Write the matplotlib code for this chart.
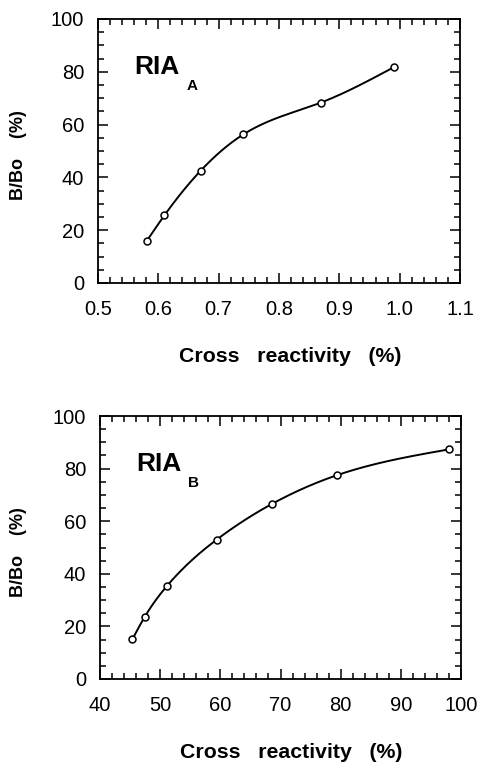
import numpy as np
import matplotlib
matplotlib.use("Agg")
import matplotlib.pyplot as plt
from matplotlib.ticker import MultipleLocator

# RIA A
xa = [0.581, 0.610, 0.670, 0.741, 0.869, 0.990]
ya = [16.0, 25.6, 42.5, 56.3, 68.3, 81.7]
# RIA B
xb = [45.4, 47.4, 51.1, 59.4, 68.6, 79.4, 98.0]
yb = [15.2, 23.5, 35.3, 53.0, 66.6, 77.5, 87.3]

xticks_a = [0.5, 0.6, 0.7, 0.8, 0.9, 1.0, 1.1]
xticklabels_a = ["0.5", "0.6", "0.7", "0.8", "0.9", "1.0", "1.1"]
xticks_b = [40, 50, 60, 70, 80, 90, 100]
yticks = [0, 20, 40, 60, 80, 100]

plt.rcParams['font.family'] = ['Liberation Sans', 'DejaVu Sans']


def spline(x, y, n=200):
    # natural cubic spline just for drawing the smooth line
    x = np.asarray(x, float)
    y = np.asarray(y, float)
    k = len(x)
    h = np.diff(x)
    A = np.zeros((k, k))
    r = np.zeros(k)
    A[0, 0] = A[-1, -1] = 1
    for i in range(1, k - 1):
        A[i, i - 1] = h[i - 1]
        A[i, i] = 2 * (h[i - 1] + h[i])
        A[i, i + 1] = h[i]
        r[i] = 6 * ((y[i + 1] - y[i]) / h[i] - (y[i] - y[i - 1]) / h[i - 1])
    m = np.linalg.solve(A, r)
    xs = np.linspace(x[0], x[-1], n)
    idx = np.clip(np.searchsorted(x, xs) - 1, 0, k - 2)
    t0 = x[idx]
    t1 = x[idx + 1]
    hh = t1 - t0
    ys = (m[idx] * (t1 - xs) ** 3 / (6 * hh) + m[idx + 1] * (xs - t0) ** 3 / (6 * hh)
          + (y[idx] / hh - m[idx] * hh / 6) * (t1 - xs)
          + (y[idx + 1] / hh - m[idx + 1] * hh / 6) * (xs - t0))
    return xs, ys


W, H = 479, 764
fig = plt.figure(figsize=(W / 100, H / 100), dpi=100)


def panel(box, x, y, xlim, xticks, xlabels, xminor, sub, ylab_y, xlab_y, xlab_x):
    l, t, r, b = box
    ax = fig.add_axes([l / W, 1 - b / H, (r - l) / W, (b - t) / H])
    xs, ys = spline(x, y)
    ax.plot(xs, ys, color='black', lw=1.4)
    ax.plot(x, y, 'o', mfc='white', mec='black', ms=5, mew=1.1)
    ax.set_xlim(*xlim)
    ax.set_ylim(0, 100)
    ax.set_xticks(xticks)
    ax.set_xticklabels(xlabels)
    ax.set_yticks(yticks)
    ax.xaxis.set_minor_locator(MultipleLocator(xminor))
    ax.yaxis.set_minor_locator(MultipleLocator(5))
    ax.tick_params(which='both', direction='in', top=True, right=True, width=1.1)
    ax.tick_params(which='major', length=7, labelsize=14.5)
    ax.tick_params(which='minor', length=4)
    ax.tick_params(axis='x', pad=12)
    ax.tick_params(axis='y', pad=10)
    for s in ax.spines.values():
        s.set_linewidth(1.3)
    ax.text(0.1, 0.79, "RIA", transform=ax.transAxes, fontsize=19, fontweight='bold')
    ax.text(0.245, 0.73, sub, transform=ax.transAxes, fontsize=11, fontweight='bold')
    fig.text(19 / W, 1 - ylab_y / H, "B/Bo    (%)", rotation=90, ha='center', va='center',
             fontsize=13, fontweight='bold')
    fig.text(xlab_x / W, 1 - xlab_y / H, "Cross   reactivity   (%)", ha='center', va='center',
             fontsize=15.3, fontweight='bold')
    return ax


panel((98, 19, 460, 283), xa, ya, (0.5, 1.1), xticks_a, xticklabels_a, 0.02, "A", 155, 356, 290)
panel((100, 416, 461, 679), xb, yb, (40, 100), xticks_b, [str(v) for v in xticks_b], 2, "B", 552, 753, 291)

fig.savefig("out.png", dpi=100)
